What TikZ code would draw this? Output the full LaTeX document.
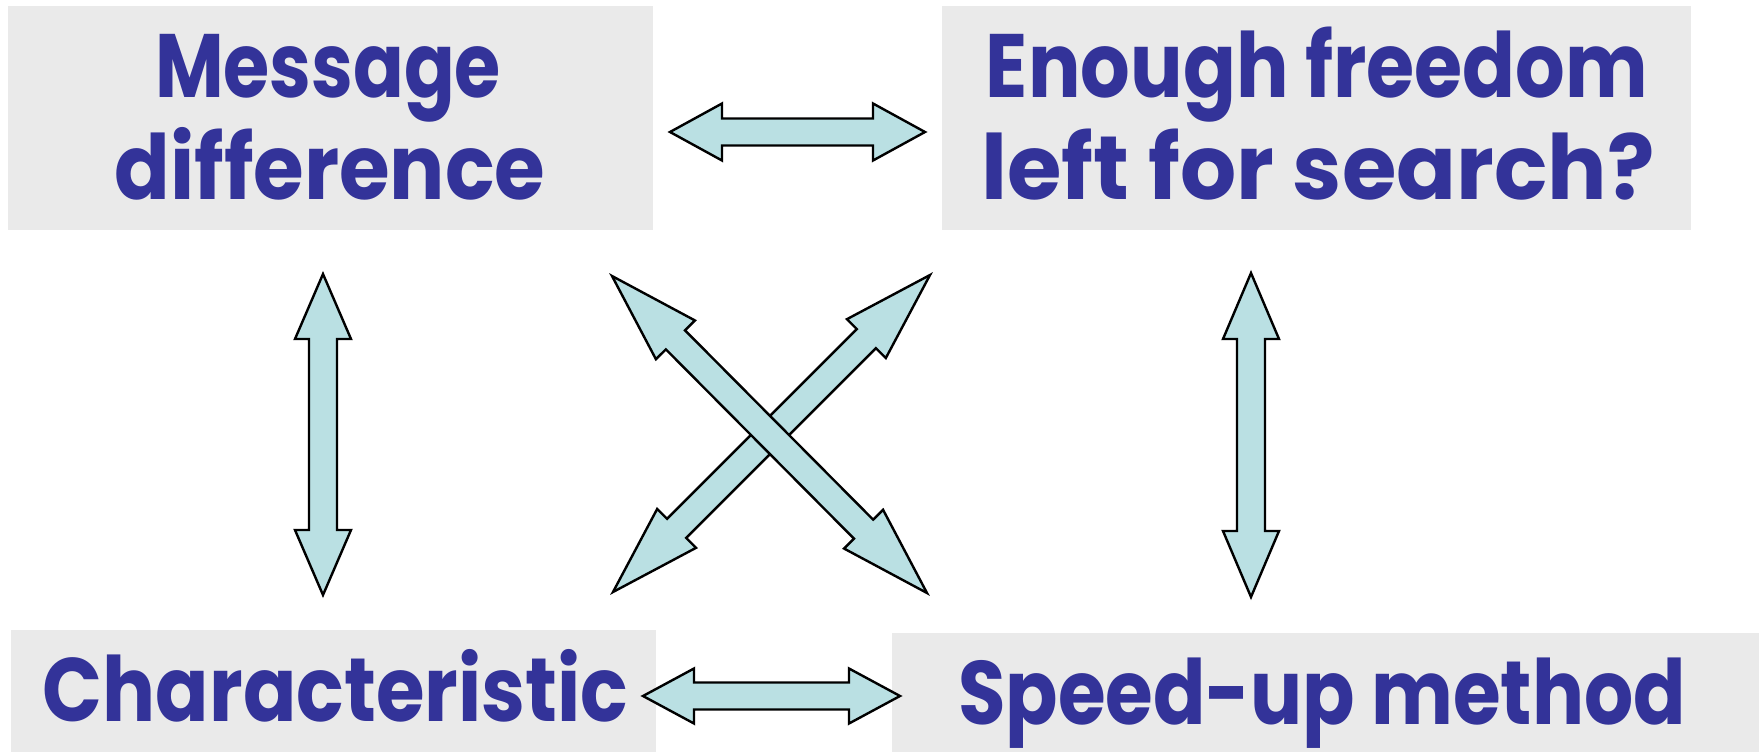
\documentclass[tikz,border=0pt]{standalone}
\usepackage{fontspec}
\setmainfont{Poppins}
\usepackage{graphicx}
\usetikzlibrary{calc}
\definecolor{txtblue}{HTML}{333399}
\definecolor{arrfill}{HTML}{BAE0E3}
\definecolor{boxgray}{HTML}{EAEAEA}
\newcommand\fitw[2]{\resizebox{#1pt}{\height}{#2}}
\newcommand\dblarrow[5]{%
 \draw[blockarrow] (#1)
 -- ($(#1)!#3!(#2)!#4!90:(#2)$)
 -- ($(#1)!#3!(#2)!#5!90:(#2)$)
 -- ($(#2)!#3!(#1)!#5!-90:(#1)$)
 -- ($(#2)!#3!(#1)!#4!-90:(#1)$)
 -- (#2)
 -- ($(#2)!#3!(#1)!#4!90:(#1)$)
 -- ($(#2)!#3!(#1)!#5!90:(#1)$)
 -- ($(#1)!#3!(#2)!#5!-90:(#2)$)
 -- ($(#1)!#3!(#2)!#4!-90:(#2)$)
 -- cycle;}
\begin{document}
\begin{tikzpicture}[x=1pt,y=-1pt,
  box/.style={rectangle, fill=boxgray, draw=none, inner sep=0pt},
  lbl/.style={inner sep=0pt, text=txtblue, font=\fontsize{90}{90}\selectfont\bfseries},
  blockarrow/.style={fill=arrfill, draw=black, line width=2.4pt, line join=miter}]
\useasboundingbox (0,0) rectangle (1759,752);
% boxes
\node[box, minimum width=645pt, minimum height=224pt] (b1) at (330.5,118) {};
\node[box, minimum width=749pt, minimum height=224pt] (b2) at (1316.5,118) {};
\node[box, minimum width=645pt, minimum height=122pt] (b3) at (333.5,691) {};
\node[box, minimum width=867pt, minimum height=119pt] (b4) at (1325.5,692.5) {};
% texts
\node[lbl, anchor=base] (t1a) at (328,97) {\fitw{346}{Message}};
\node[lbl, anchor=base] (t1b) at (330,199) {\fitw{431}{difference}};
\node[lbl, anchor=base] (t2a) at (1317,98) {\fitw{662}{Enough freedom}};
\node[lbl, anchor=base] (t2b) at (1318,199) {\fitw{673}{left for search?}};
\node[lbl, anchor=base] (t3) at (335.5,721) {\fitw{585}{Characteristic}};
\node[lbl, anchor=base] (t4) at (1322,724) {\fitw{728}{Speed-up method}};
% arrow end points
\coordinate (tL) at (670,132);  \coordinate (tR) at (925,132);
\coordinate (bL) at (643,696);  \coordinate (bR) at (900,696);
\coordinate (lT) at (323,274);  \coordinate (lB) at (323,595);
\coordinate (rT) at (1251,273); \coordinate (rB) at (1251,597);
\coordinate (dBL) at (613,592); \coordinate (dTR) at (930,275);
\coordinate (dTL) at (612,276); \coordinate (dBR) at (927,593);
% arrows
\dblarrow{tL}{tR}{52pt}{28.5pt}{13.5pt}
\dblarrow{bL}{bR}{51pt}{27.5pt}{13.5pt}
\dblarrow{lT}{lB}{65pt}{28pt}{14pt}
\dblarrow{rT}{rB}{66pt}{28pt}{14pt}
\dblarrow{dBL}{dTR}{90pt}{27.5pt}{13.5pt}
\dblarrow{dTL}{dBR}{90pt}{27.5pt}{13.5pt}
\end{tikzpicture}
\end{document}
